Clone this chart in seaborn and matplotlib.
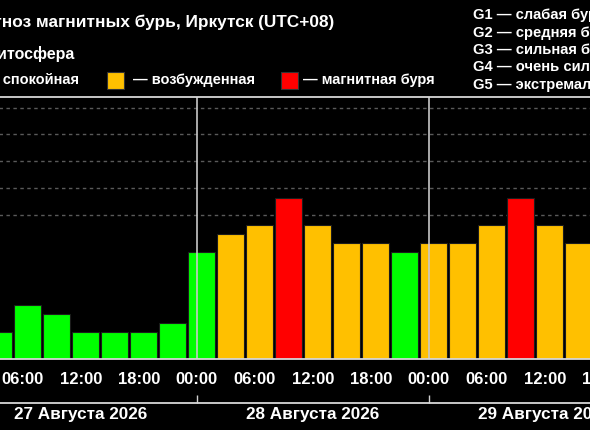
import numpy as np
import pandas as pd
import seaborn as sns
import matplotlib.pyplot as plt
from matplotlib.patches import Rectangle
from matplotlib.ticker import MultipleLocator, FuncFormatter

# start of each 3-hour slot, hours from 27.08.2026 00:00 (UTC+08)
hours = [3, 6, 9, 12, 15, 18, 21,
         24, 27, 30, 33, 36, 39, 42, 45,
         48, 51, 54, 57, 60, 63]
kp = [1.00, 2.00, 1.67, 1.00, 1.00, 1.00, 1.33,
      4.00, 4.67, 5.00, 6.00, 5.00, 4.33, 4.33, 4.00,
      4.33, 4.33, 5.00, 6.00, 5.00, 4.33]
status = ["calm", "calm", "calm", "calm", "calm", "calm", "calm",
          "calm", "active", "active", "storm", "active", "active", "active", "calm",
          "active", "active", "active", "storm", "active", "active"]

days = ["27 Августа 2026", "28 Августа 2026", "29 Августа 2026"]
day_mid = [12, 36, 60]
day_edges = [24, 48]
title = "Прогноз магнитных бурь, Иркутск (UTC+08)"
legend_title = "Магнитосфера"
legend_labels = ["— спокойная", "— возбужденная", "— магнитная буря"]
g_labels = ["G1 — слабая буря", "G2 — средняя буря", "G3 — сильная буря",
            "G4 — очень сильная буря", "G5 — экстремальная буря"]
palette = {"calm": "#00ff00", "active": "#ffc000", "storm": "#ff0000"}

df = pd.DataFrame({"hour": hours, "kp": kp, "status": status})
df["mid"] = df["hour"] + 0.5

sns.set_style("dark")
plt.rcParams["font.family"] = ["Liberation Sans", "DejaVu Sans"]

W, H = 590, 430
fig = plt.figure(figsize=(W / 100, H / 100), dpi=100, facecolor="black")


def fx(x):
    return x / W


def fy(y):
    return 1 - y / H


# plot area is wider than the picture, the chart is cut at both sides
ax = fig.add_axes([fx(-60), fy(359.3), fx(710), (359.3 - 97.3) / H])
ax.set_facecolor("black")

sns.barplot(data=df, x="mid", y="kp", hue="status", palette=palette,
            native_scale=True, width=0.9, dodge=False, saturation=1,
            edgecolor="#1c1c1c", linewidth=0.8, legend=False, ax=ax)

px_per_h = 29 / 3
ax.set_xlim(3.652 - 60 / px_per_h, 3.652 + 650 / px_per_h)
ax.set_ylim(0, 9.73)

ax.set_yticks([5.35, 6.35, 7.35, 8.35, 9.35])
ax.set_yticklabels([])
ax.tick_params(axis="y", length=0)
ax.yaxis.grid(True, color="#5a5a5a", linestyle=(0, (2.5, 2.5)), linewidth=1)
ax.xaxis.grid(False)
ax.set_axisbelow(True)

for d in day_edges:
    ax.axvline(d, color="#c8c8c8", linewidth=1.2, zorder=1)

ax.xaxis.set_major_locator(MultipleLocator(6))
ax.xaxis.set_minor_locator(MultipleLocator(3))
ax.xaxis.set_major_formatter(FuncFormatter(lambda h, p: f"{int(round(h)) % 24:02d}:00"))
ax.tick_params(axis="x", which="major", length=6.5, width=1, color="#d0d0d0",
               labelcolor="white", labelsize=12, pad=2.5)
ax.tick_params(axis="x", which="minor", length=3.2, width=1, color="#d0d0d0")
for lab in ax.get_xticklabels():
    lab.set_fontweight("bold")
ax.set_xlabel("")
ax.set_ylabel("")

for side in ["left", "right"]:
    ax.spines[side].set_visible(False)
for side in ["top", "bottom"]:
    ax.spines[side].set_visible(True)
    ax.spines[side].set_color("#d8d8d8")
    ax.spines[side].set_linewidth(1.3)

# row with the dates
sec = ax.secondary_xaxis(-(403 - 359.3) / 262)
sec.set_xticks(day_edges, labels=["", ""])
sec.set_xticks(day_mid, labels=days, minor=True)
sec.tick_params(axis="x", which="major", direction="in", length=6, width=1, color="#d0d0d0")
sec.tick_params(axis="x", which="minor", length=0, pad=3, labelcolor="white", labelsize=12.3)
for lab in sec.get_xticklabels(minor=True):
    lab.set_fontweight("bold")
sec.spines["bottom"].set_color("#d8d8d8")
sec.spines["bottom"].set_linewidth(1.3)

# header texts
fig.text(fx(334), fy(26.7), title, ha="right", va="baseline", color="white",
         fontsize=12.4, fontweight="bold")
fig.text(fx(75.7), fy(59.3), legend_title, ha="right", va="baseline", color="white",
         fontsize=11.5, fontweight="bold")

sq_x = [-37, 107, 281]
txt_x = [79, 133, 303]
for i, key in enumerate(["calm", "active", "storm"]):
    fig.add_artist(Rectangle((fx(sq_x[i]), fy(89)), fx(17), 17 / H,
                             facecolor=palette[key], edgecolor="#333333",
                             linewidth=0.8, transform=fig.transFigure))
    if i == 0:
        fig.text(fx(txt_x[i]), fy(84), legend_labels[i], ha="right", va="baseline",
                 color="white", fontsize=10.5, fontweight="bold")
    else:
        fig.text(fx(txt_x[i]), fy(84), legend_labels[i], ha="left", va="baseline",
                 color="white", fontsize=10.5, fontweight="bold")

for i, g in enumerate(g_labels):
    fig.text(fx(472.7), fy(19.5 + 17.25 * i), g, ha="left", va="baseline",
             color="white", fontsize=10.6, fontweight="bold")

fig.savefig("out.png", dpi=100, facecolor="black")
